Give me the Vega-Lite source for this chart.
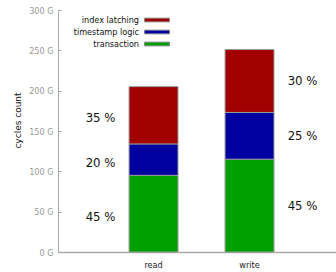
{
  "$schema": "https://vega.github.io/schema/vega-lite/v6.json",
  "width": 278,
  "height": 242,
  "autosize": "none",
  "padding": {"left": 58, "top": 10, "right": 0, "bottom": 20},
  "data": {
    "values": [
      {"cat": "read", "seg": "transaction", "ord": 1, "v": 95, "label": "45 %"},
      {"cat": "read", "seg": "timestamp logic", "ord": 2, "v": 39, "label": "20 %"},
      {"cat": "read", "seg": "index latching", "ord": 3, "v": 71, "label": "35 %"},
      {"cat": "write", "seg": "transaction", "ord": 1, "v": 115, "label": "45 %"},
      {"cat": "write", "seg": "timestamp logic", "ord": 2, "v": 58, "label": "25 %"},
      {"cat": "write", "seg": "index latching", "ord": 3, "v": 78, "label": "30 %"}
    ]
  },
  "transform": [
    {"stack": "v", "groupby": ["cat"], "sort": [{"field": "ord", "order": "ascending"}], "as": ["y0", "y1"]},
    {"calculate": "(datum.y0 + datum.y1) / 2", "as": "mid"}
  ],
  "encoding": {
    "x": {
      "field": "cat", "type": "nominal",
      "scale": {"paddingInner": 0.49, "paddingOuter": 0.693, "align": 0.534},
      "axis": {"title": null, "labelAngle": 0, "ticks": false, "domainColor": "#aaaaaa", "domainWidth": 1.5, "labelColor": "#222222", "labelFont": "DejaVu Sans Condensed", "labelFontSize": 9, "labelPadding": 8}
    }
  },
  "layer": [
    {
      "mark": {"type": "bar", "stroke": "#999999", "strokeWidth": 1},
      "encoding": {
        "y": {
          "field": "y0", "type": "quantitative",
          "scale": {"domain": [0, 300]},
          "axis": {"title": "cycles count", "values": [0, 50, 100, 150, 200, 250, 300], "labelExpr": "datum.value + ' G'", "grid": false, "domainColor": "#aaaaaa", "tickColor": "#aaaaaa", "tickSize": -3, "labelPadding": 8, "labelColor": "#999999", "labelFont": "DejaVu Sans Condensed", "labelFontSize": 9, "titleFont": "DejaVu Sans", "titleFontSize": 9, "titleFontWeight": "normal", "titleColor": "#111111", "titleX": -41, "titleY": 110, "titleAlign": "center", "titleBaseline": "middle", "titleAngle": -90}
        },
        "y2": {"field": "y1"},
        "color": {
          "field": "seg", "type": "nominal",
          "scale": {"domain": ["index latching", "timestamp logic", "transaction"], "range": ["#a00000", "#0000a0", "#00a000"]},
          "legend": {"title": null, "orient": "none", "legendX": 92, "legendY": 3, "padding": 0, "symbolType": "M-2,-0.3H2V0.3H-2Z", "symbolSize": 156, "symbolStrokeColor": "#888888", "symbolStrokeWidth": 1, "labelAlign": "right", "labelOffset": -25, "labelFont": "DejaVu Sans Condensed", "labelFontSize": 9, "labelColor": "#111111", "rowPadding": 0}
        }
      }
    },
    {
      "transform": [{"filter": "datum.cat == 'read'"}],
      "mark": {"type": "text", "dx": -53, "dy": 3, "font": "DejaVu Sans Condensed", "fontSize": 13, "color": "#111111", "baseline": "middle"},
      "encoding": {"y": {"field": "mid", "type": "quantitative"}, "text": {"field": "label"}}
    },
    {
      "transform": [{"filter": "datum.cat == 'write'"}],
      "mark": {"type": "text", "dx": 53, "font": "DejaVu Sans Condensed", "fontSize": 13, "color": "#111111", "baseline": "middle"},
      "encoding": {"y": {"field": "mid", "type": "quantitative"}, "text": {"field": "label"}}
    }
  ],
  "config": {"view": {"stroke": null}}
}
